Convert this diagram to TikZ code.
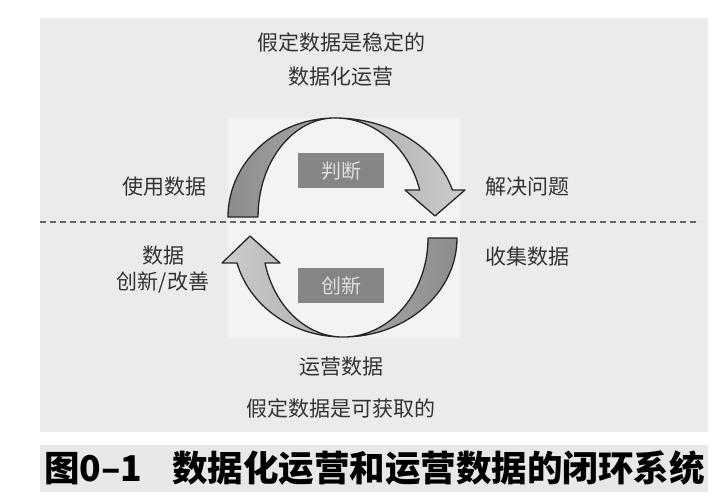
\documentclass[tikz,border=0pt]{standalone}
\usepackage{fontspec}
\newfontfamily\cjk{Noto Sans CJK SC}
\usetikzlibrary{positioning}

\definecolor{panelgray}{HTML}{EBEBEB}
\definecolor{innergray}{HTML}{F3F3F3}
\definecolor{bargray}{HTML}{E8E8E8}

\tikzset{
 lbl/.style={font=\cjk\fontsize{21}{21}\selectfont, text=black!80, inner sep=0pt},
 tagbox/.style={fill=black!48, text=black!12, minimum width=86pt, minimum height=35pt,
  inner sep=0pt, font=\cjk\fontsize{20}{20}\selectfont},
 bigarrow/.style={draw=black!85, line width=1.3pt, line join=round},
}

\begin{document}
\begin{tikzpicture}[x=1pt, y=-1pt]

 \useasboundingbox (0,0) rectangle (722,500);

 %%%  background

 \fill[white] (0,0) rectangle (722,500);
 \fill[panelgray] (40,18) rectangle (708,432);
 \fill[innergray] (228,118) rectangle (460,338);
 \fill[bargray] (40,445) rectangle (708,492);

 %%%  nodes

 % top and bottom texts
 \node [lbl] (stable) at (341,42) {假定数据是稳定的};
 \node [lbl, below=15pt of stable] (dataops) {数据化运营};
 \node [lbl] (opsdata) at (341,367) {运营数据};
 \node [lbl, below=22pt of opsdata] (avail) {假定数据是可获取的};

 % side texts
 \node [lbl] (usedata) at (164,187) {使用数据};
 \node [lbl] (solve) at (527,187) {解决问题};
 \node [lbl] (collect) at (527,257) {收集数据};
 \node [lbl] (datainno) at (163,256) {数据};
 \node [lbl, below=6pt of datainno] (improve) {创新/改善};

 % boxes
 \node [tagbox] (judge) at (341,170.5) {判断};
 \node [tagbox] (innov) at (341,285.5) {创新};

 %%%  dashed divider
 \coordinate (divl) at (40,222);
 \coordinate (divr) at (700,222);
 \draw [black!60, line width=1.4pt, dash pattern=on 6pt off 4pt] (divl) -- (divr);

 %%%  arrows

 % upper arrow
 \draw [bigarrow, left color=black!45, right color=black!20]
  (228,217) arc [start angle=180, end angle=270, x radius=107, y radius=99]
  arc [start angle=270, end angle=344.2, x radius=122, y radius=99]
  -- (465,190) -- (435,216) -- (405,190) -- (419.7,190)
  arc [start angle=344.2, end angle=270, x radius=88, y radius=99]
  arc [start angle=270, end angle=180, x radius=77, y radius=99]
  -- cycle;

 % lower arrow
 \draw [bigarrow, left color=black!20, right color=black!45]
  (457,238) arc [start angle=0, end angle=90, x radius=114, y radius=99]
  arc [start angle=90, end angle=165.4, x radius=109.5, y radius=99]
  -- (222,263) -- (250,236) -- (280,263) -- (265,263)
  arc [start angle=165.4, end angle=90, x radius=80.6, y radius=99]
  arc [start angle=90, end angle=0, x radius=85, y radius=99]
  -- cycle;

 %%%  caption
 \node [anchor=west, inner sep=0pt, font=\cjk\bfseries\fontsize{35.5}{36}\selectfont]
  (caption) at (44,468) {图0–1\hspace{30pt}数据化运营和运营数据的闭环系统};

\end{tikzpicture}
\end{document}
